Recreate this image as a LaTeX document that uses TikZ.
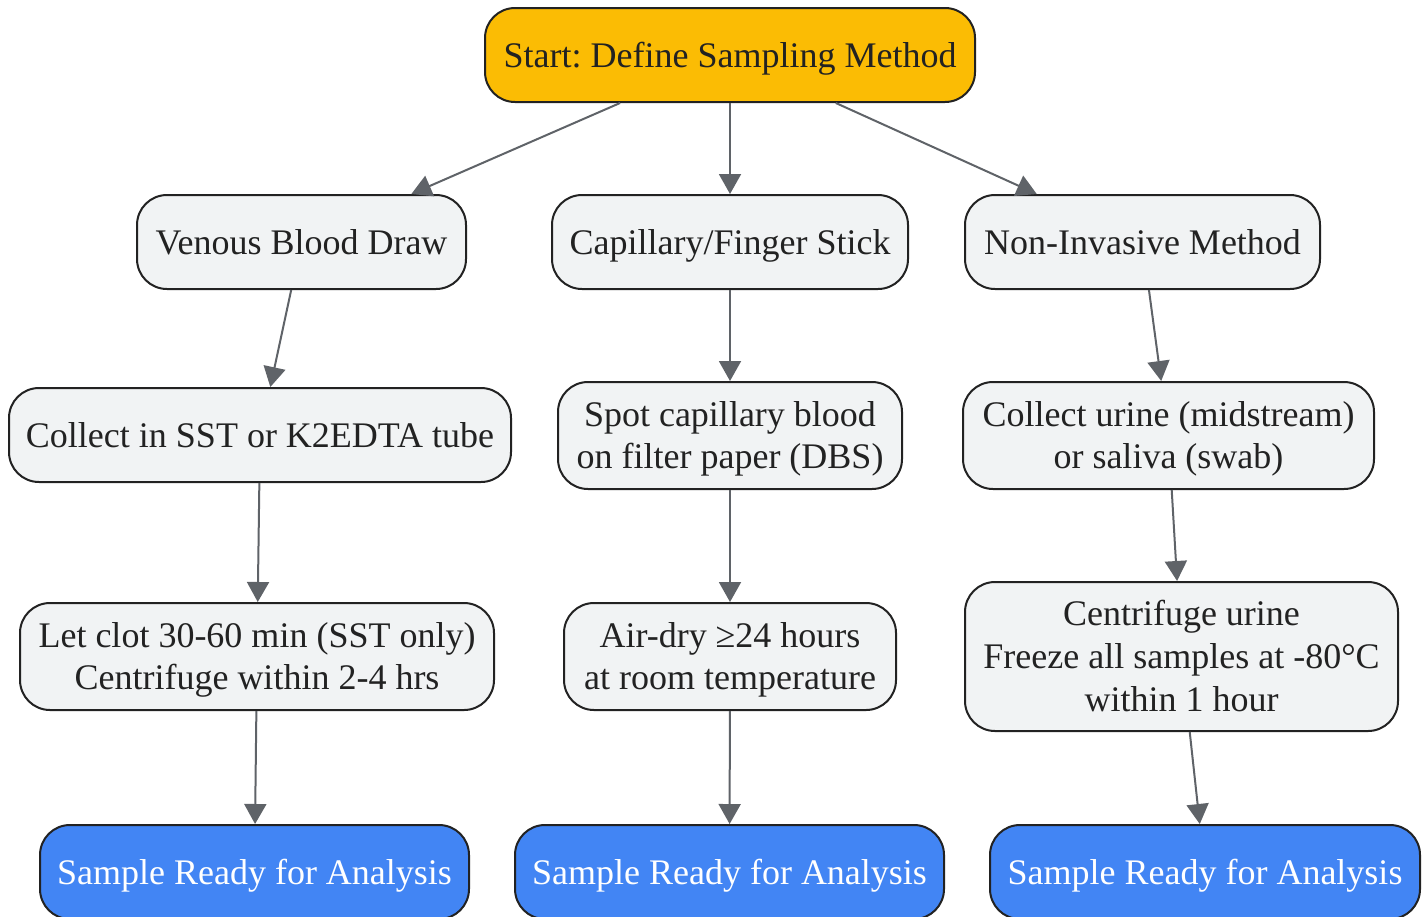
\documentclass[tikz,border=0pt]{standalone}
\usepackage{fontspec}
\setmainfont{Liberation Serif}
\usetikzlibrary{arrows.meta}
\usetikzlibrary{positioning}

\definecolor{boxgray}{HTML}{F1F3F4}
\definecolor{startyellow}{HTML}{FBBC04}
\definecolor{readyblue}{HTML}{4285F4}
\definecolor{linegray}{HTML}{5F6368}
\definecolor{edgeblack}{HTML}{222222}

\tikzset{
  box/.style={draw=edgeblack, line width=1pt, rounded corners=15pt,
    fill=boxgray, text=edgeblack, align=center, inner sep=0pt,
    font=\fontsize{18}{21.4}\selectfont\frenchspacing,
    execute at begin node={\rule{0pt}{17pt}},
    execute at end node={\rule[-5pt]{0pt}{5pt}}},
  multi/.style={execute at begin node={\rule{0pt}{#1}}},
  startbox/.style={box, fill=startyellow},
  readybox/.style={box, fill=readyblue, text=white},
  arr/.style={draw=linegray, line width=1pt,
    -{Triangle[length=10pt, width=11pt]}},
}

\begin{document}
\begin{tikzpicture}[x=0.5pt, y=-0.5pt]

\useasboundingbox (0,0) rectangle (1428,916);

% 第一层
\node[startbox, minimum width=245pt, minimum height=47pt] (start) at (730,55)
  {Start: Define Sampling Method};

% 第二层
\node[box, minimum width=164.5pt, minimum height=47pt] (venous) at (301.5,242)
  {Venous Blood Draw};
\node[box, minimum width=178pt, minimum height=47pt] (capillary) at (730,242)
  {Capillary/Finger Stick};
\node[box, minimum width=177.5pt, minimum height=47pt] (noninv) at (1142.5,242)
  {Non-Invasive Method};

% 第三层
\node[box, multi=38.4pt, minimum width=172pt, minimum height=53.5pt] (spot) at (730,435.5)
  {Spot capillary blood\\on filter paper (DBS)};
\node[box, minimum width=251pt, minimum height=47pt] (collect) at (260,435)
  {Collect in SST or K2EDTA tube};
\node[box, multi=38.4pt, minimum width=205.5pt, minimum height=53.5pt] (urine) at (1168.5,435.5)
  {Collect urine (midstream)\\or saliva (swab)};

% 第四层
\node[box, multi=38.4pt, minimum width=237pt, minimum height=53.5pt] (clot) at (257,656.5)
  {Let clot 30-60 min (SST only)\\Centrifuge within 2-4 hrs};
\node[box, multi=38.4pt, minimum width=166pt, minimum height=53.5pt] (airdry) at (730,656.5)
  {Air-dry ≥24 hours\\at room temperature};
\node[box, multi=59.8pt, minimum width=216.5pt, minimum height=74.5pt] (centri) at (1181.5,656.5)
  {Centrifuge urine\\Freeze all samples at -80°C\\within 1 hour};

% 结果
\node[readybox, minimum width=214.5pt, minimum height=47pt] (readyA) at (254.5,872)
  {Sample Ready for Analysis};
\node[readybox, minimum width=214.5pt, minimum height=47pt] (readyB) at (729.5,872)
  {Sample Ready for Analysis};
\node[readybox, minimum width=215pt, minimum height=47pt] (readyC) at (1205,872)
  {Sample Ready for Analysis};

% 连线
\draw[arr] (start) -- (venous);
\draw[arr] (start) -- (capillary);
\draw[arr] (start) -- (noninv);

\draw[arr] (venous) -- (collect);
\draw[arr] (collect) -- (clot);
\draw[arr] (clot) -- (readyA);

\draw[arr] (capillary) -- (spot);
\draw[arr] (spot) -- (airdry);
\draw[arr] (airdry) -- (readyB);

\draw[arr] (noninv) -- (urine);
\draw[arr] (urine) -- (centri);
\draw[arr] (centri) -- (readyC);

\end{tikzpicture}
\end{document}
